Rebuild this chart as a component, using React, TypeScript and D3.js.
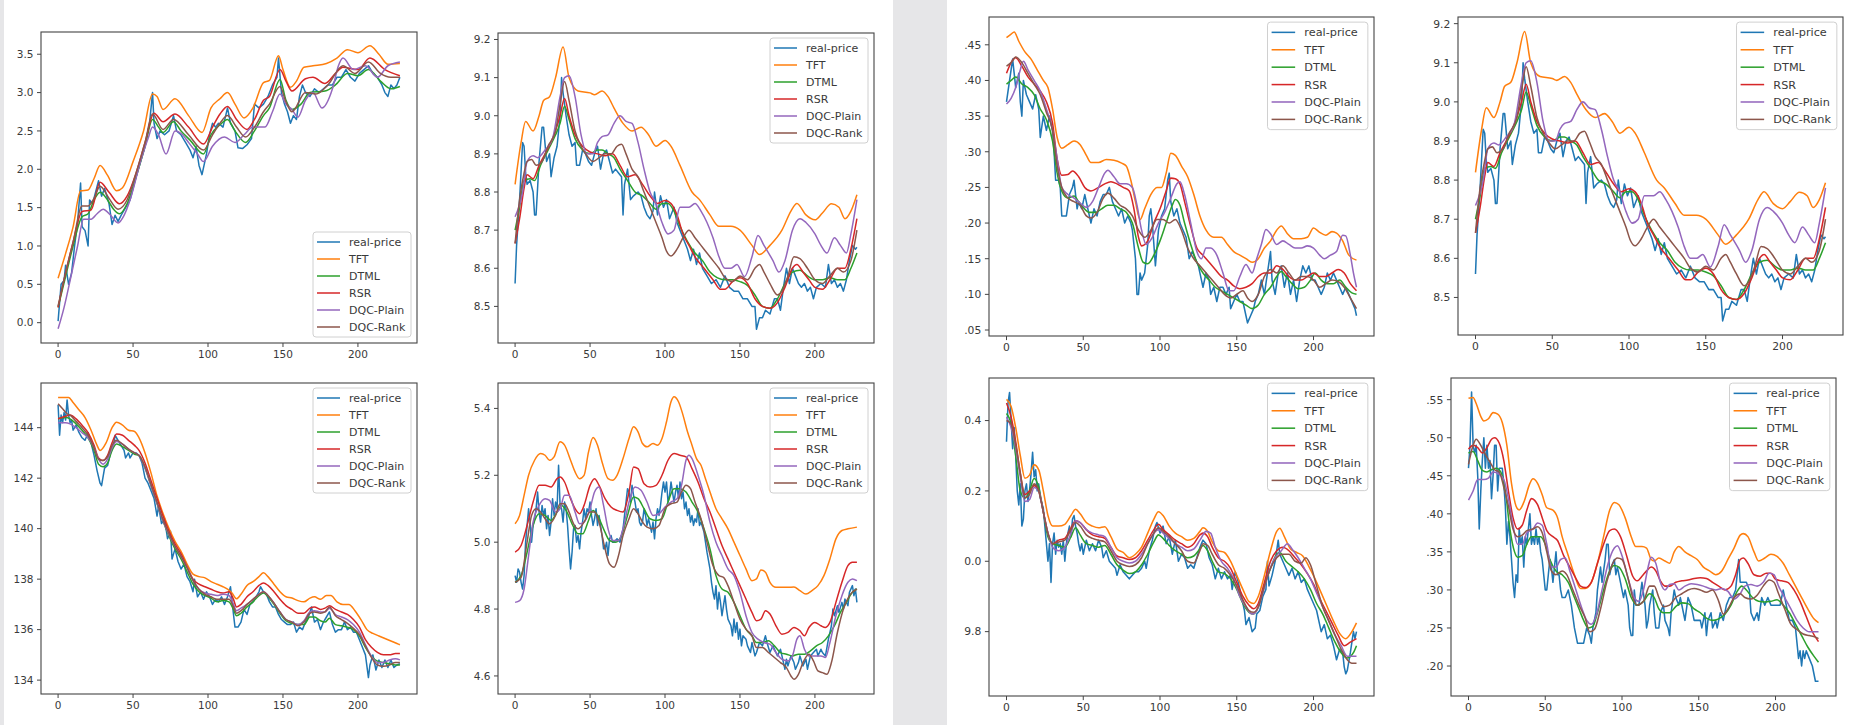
import React from 'react';
import * as d3 from 'd3';

const SERIES = ['real-price', 'TFT', 'DTML', 'RSR', 'DQC-Plain', 'DQC-Rank'];
const COLORS = ['#1f77b4', '#ff7f0e', '#2ca02c', '#d62728', '#9467bd', '#8c564b'];
const X_TICKS = [0, 50, 100, 150, 200];
const X_DOMAIN = [-11.4, 239.4];

// ---------- Panel 1 ----------
const P1_YDOMAIN = [-0.265, 3.79];
const P1_YTICKS = [3.5, 3.0, 2.5, 2.0, 1.5, 1.0, 0.5, 0.0];
const P1_YLABELS = ['3.5', '3.0', '2.5', '2.0', '1.5', '1.0', '0.5', '0.0'];
const P1_REAL = [0,.02, 2,.5, 4,.55, 5,.75, 7,.5, 9,.65, 11,1.0, 13,1.3, 15,1.82, 16,1.25, 18,1.2, 20,1.0, 21,1.6, 23,1.55, 25,1.7, 27,1.85, 29,1.65, 31,1.75, 34,1.55, 36,1.28, 38,1.4, 40,1.32, 42,1.4, 45,1.5, 48,1.6, 52,1.9, 55,2.1, 58,2.3, 61,2.6, 63,3.0, 64,2.6, 66,2.4, 68,2.5, 71,2.45, 74,2.5, 77,2.7, 79,2.5, 82,2.45, 85,2.35, 88,2.25, 90,2.15, 92,2.3, 94,2.05, 96,1.93, 99,2.2, 101,2.45, 103,2.6, 105,2.55, 107,2.6, 110,2.55, 113,2.8, 115,2.6, 118,2.5, 120,2.28, 123,2.27, 126,2.32, 129,2.4, 131,2.85, 134,2.8, 137,2.85, 140,2.95, 143,3.1, 146,3.2, 147,3.45, 149,3.0, 151,2.85, 153,2.75, 155,2.6, 157,2.7, 159,2.65, 161,2.95, 163,3.1, 165,3.0, 168,2.95, 171,3.05, 174,3.0, 177,3.05, 180,3.1, 183,3.1, 186,3.2, 189,3.2, 192,3.3, 195,3.2, 198,3.15, 201,3.25, 204,3.3, 207,3.35, 210,3.25, 213,3.2, 216,3.1, 218,3.0, 220,2.95, 222,3.1, 224,3.05, 226,3.1, 228,3.2];
const P1_TFT = [0,.58, 5,.9, 10,1.25, 15,1.72, 20,1.73, 24,1.88, 28,2.05, 33,1.92, 39,1.72, 43,1.76, 50,2.1, 57,2.5, 63,2.98, 66,2.95, 70,2.78, 78,2.92, 87,2.7, 96,2.48, 102,2.8, 108,2.92, 113,3.0, 118,2.85, 124,2.67, 130,2.8, 137,3.13, 141,3.16, 147,3.48, 150,3.3, 155,3.07, 159,3.15, 164,3.33, 170,3.35, 179,3.38, 186,3.45, 193,3.56, 200,3.52, 208,3.61, 214,3.5, 220,3.37, 228,3.38];
const P1_DTML = [0,.2, 5,.6, 10,1.0, 16,1.38, 20,1.42, 24,1.6, 28,1.7, 33,1.6, 37,1.48, 41,1.42, 46,1.55, 52,1.9, 58,2.3, 63,2.65, 67,2.55, 70,2.48, 77,2.62, 82,2.5, 88,2.38, 97,2.2, 102,2.45, 108,2.58, 113,2.65, 118,2.5, 125,2.35, 131,2.5, 137,2.7, 141,2.8, 148,3.17, 152,2.9, 156,2.78, 162,2.85, 168,3.0, 178,3.02, 185,3.1, 193,3.25, 200,3.22, 207,3.3, 215,3.15, 222,3.05, 228,3.08];
const P1_RSR = [0,.2, 5,.65, 10,1.05, 16,1.45, 22,1.47, 28,1.83, 34,1.7, 41,1.55, 46,1.65, 52,1.95, 58,2.35, 64,2.73, 70,2.62, 78,2.72, 87,2.55, 97,2.33, 103,2.55, 108,2.72, 113,2.82, 119,2.65, 126,2.52, 131,2.65, 137,2.9, 141,2.95, 148,3.3, 152,3.15, 156,3.02, 165,3.18, 170,3.2, 178,3.12, 185,3.25, 190,3.33, 200,3.3, 208,3.45, 218,3.3, 228,3.22];
const P1_PLAIN = [0,-.08, 4,.2, 8,.55, 13,1.0, 17,1.35, 22,1.35, 26,1.42, 30,1.48, 35,1.4, 40,1.3, 44,1.4, 48,1.6, 55,2.1, 60,2.4, 63,2.55, 67,2.45, 72,2.2, 78,2.5, 83,2.45, 87,2.35, 93,2.2, 97,2.1, 103,2.3, 111,2.42, 118,2.35, 124,2.45, 130,2.55, 138,2.55, 143,2.75, 148,2.98, 152,2.85, 156,2.78, 160,2.68, 165,2.9, 170,3.0, 176,2.8, 183,3.05, 187,3.35, 190,3.45, 197,3.3, 205,3.35, 213,3.2, 220,3.35, 228,3.4];
const P1_RANK = [0,.22, 5,.65, 10,1.05, 16,1.52, 20,1.52, 24,1.62, 28,1.78, 34,1.62, 40,1.48, 46,1.6, 52,1.95, 58,2.35, 63,2.72, 70,2.52, 77,2.65, 87,2.45, 97,2.25, 103,2.45, 108,2.6, 113,2.7, 119,2.55, 125,2.42, 131,2.55, 137,2.75, 141,2.85, 148,3.08, 152,2.88, 156,2.75, 165,3.0, 172,2.98, 180,3.1, 190,3.35, 198,3.25, 207,3.4, 215,3.25, 222,3.2, 228,3.2];

// ---------- Panel 2 (also panel 4) ----------
const P2_YDOMAIN = [8.404, 9.217];
const P2_YTICKS = [9.2, 9.1, 9.0, 8.9, 8.8, 8.7, 8.6, 8.5];
const P2_YLABELS = ['9.2', '9.1', '9.0', '8.9', '8.8', '8.7', '8.6', '8.5'];
const P2_REAL = [0,8.56, 1,8.66, 3,8.78, 5,8.93, 6,8.92, 7,8.85, 8,8.82, 10,8.83, 12,8.8, 13,8.74, 14,8.74, 16,8.88, 18,8.97, 19,8.97, 21,8.88, 23,8.9, 24,8.84, 26,8.89, 28,8.92, 30,9.0, 31,9.1, 32,9.06, 34,9.0, 36,8.95, 38,8.92, 40,8.93, 41,8.87, 43,8.87, 45,8.91, 47,8.9, 49,8.88, 51,8.87, 53,8.9, 55,8.92, 57,8.86, 59,8.9, 61,8.91, 63,8.88, 65,8.85, 67,8.86, 69,8.85, 71,8.84, 72,8.74, 73,8.82, 75,8.86, 77,8.78, 79,8.79, 82,8.8, 84,8.79, 86,8.76, 88,8.74, 90,8.73, 92,8.75, 93,8.8, 95,8.74, 97,8.79, 99,8.76, 101,8.78, 103,8.73, 106,8.76, 108,8.72, 110,8.7, 112,8.68, 115,8.65, 117,8.62, 119,8.65, 121,8.61, 123,8.64, 125,8.6, 128,8.58, 131,8.56, 134,8.57, 137,8.55, 140,8.58, 143,8.55, 146,8.54, 149,8.54, 152,8.52, 155,8.52, 158,8.5, 160,8.5, 161,8.44, 163,8.47, 165,8.47, 167,8.49, 170,8.48, 173,8.52, 175,8.52, 177,8.49, 179,8.55, 181,8.6, 183,8.56, 185,8.6, 187,8.58, 189,8.56, 191,8.55, 193,8.56, 195,8.54, 197,8.55, 199,8.52, 201,8.55, 204,8.56, 207,8.55, 209,8.61, 211,8.56, 213,8.57, 215,8.55, 217,8.56, 219,8.54, 221,8.57, 223,8.62, 225,8.66, 227,8.65, 228,8.655];
const P2_TFT = [0,8.82, 4,8.93, 7,8.985, 12,8.96, 16,9.0, 19,9.04, 23,9.05, 27,9.1, 32,9.18, 36,9.1, 42,9.065, 50,9.06, 53,9.055, 58,9.065, 62,9.05, 66,9.02, 72,8.98, 78,8.96, 84,8.97, 89,8.95, 94,8.92, 100,8.935, 104,8.92, 110,8.87, 118,8.8, 123,8.78, 130,8.74, 136,8.71, 144,8.71, 150,8.7, 158,8.66, 163,8.636, 170,8.66, 178,8.7, 184,8.75, 188,8.77, 194,8.74, 200,8.727, 205,8.745, 211,8.769, 216,8.76, 220,8.73, 224,8.75, 228,8.793];
const P2_DTML = [0,8.7, 3,8.76, 6,8.83, 10,8.835, 13,8.83, 17,8.87, 22,8.91, 27,8.95, 30,8.98, 33,9.025, 36,8.99, 40,8.94, 45,8.91, 50,8.9, 55,8.91, 58,8.91, 62,8.9, 66,8.89, 70,8.86, 75,8.83, 80,8.8, 85,8.79, 90,8.77, 94,8.755, 98,8.77, 102,8.77, 106,8.75, 110,8.71, 115,8.67, 120,8.64, 125,8.62, 130,8.59, 135,8.575, 140,8.57, 145,8.57, 150,8.565, 155,8.555, 160,8.53, 165,8.5, 170,8.495, 175,8.52, 180,8.56, 185,8.59, 190,8.595, 195,8.58, 200,8.57, 205,8.57, 210,8.575, 215,8.57, 220,8.57, 224,8.6, 228,8.64];
const P2_RSR = [0,8.665, 3,8.73, 6,8.81, 8,8.845, 12,8.835, 16,8.87, 20,8.9, 25,8.94, 30,9.0, 33,9.045, 36,9.0, 40,8.95, 45,8.92, 50,8.905, 55,8.9, 60,8.895, 65,8.9, 70,8.87, 75,8.84, 80,8.845, 85,8.82, 90,8.79, 95,8.77, 100,8.778, 104,8.77, 108,8.74, 112,8.69, 116,8.66, 120,8.63, 126,8.6, 132,8.57, 137,8.545, 140,8.545, 145,8.565, 150,8.575, 155,8.56, 160,8.52, 165,8.5, 170,8.495, 175,8.51, 180,8.55, 185,8.6, 188,8.61, 192,8.59, 196,8.57, 200,8.55, 205,8.545, 210,8.57, 215,8.6, 220,8.6, 224,8.65, 228,8.73];
const P2_PLAIN = [0,8.735, 5,8.8, 8,8.88, 12,8.895, 15,8.89, 20,8.91, 25,8.94, 30,9.05, 33,9.1, 36,9.105, 40,9.05, 44,8.95, 48,8.9, 52,8.9, 55,8.93, 58,8.945, 62,8.95, 66,8.98, 70,9.0, 74,8.985, 78,8.98, 82,8.93, 86,8.86, 90,8.8, 94,8.77, 98,8.72, 102,8.69, 106,8.7, 110,8.76, 116,8.76, 120,8.77, 124,8.75, 128,8.72, 132,8.68, 136,8.63, 140,8.6, 144,8.6, 148,8.61, 153,8.578, 158,8.63, 162,8.686, 166,8.66, 172,8.62, 176,8.59, 180,8.62, 185,8.7, 190,8.73, 194,8.72, 200,8.69, 204,8.66, 208,8.64, 213,8.68, 217,8.66, 221,8.64, 224,8.69, 228,8.78];
const P2_RANK = [0,8.665, 3,8.78, 6,8.85, 8,8.88, 11,8.885, 14,8.87, 18,8.88, 22,8.92, 27,8.96, 30,9.03, 33,9.09, 36,9.04, 40,8.96, 44,8.92, 48,8.895, 52,8.88, 56,8.89, 60,8.9, 64,8.9, 68,8.92, 71,8.925, 74,8.9, 78,8.86, 82,8.84, 86,8.8, 90,8.76, 94,8.72, 98,8.68, 101,8.645, 104,8.632, 108,8.65, 112,8.68, 116,8.7, 120,8.68, 124,8.66, 128,8.64, 132,8.62, 136,8.6, 140,8.575, 145,8.565, 150,8.58, 155,8.57, 160,8.6, 163,8.61, 166,8.59, 170,8.56, 175,8.53, 178,8.54, 182,8.58, 186,8.63, 190,8.625, 195,8.6, 200,8.57, 205,8.56, 210,8.58, 215,8.6, 219,8.59, 224,8.62, 228,8.7];

// ---------- Panel 3 ----------
const P3_YDOMAIN = [0.0416, 0.489];
const P3_YTICKS = [0.45, 0.40, 0.35, 0.30, 0.25, 0.20, 0.15, 0.10, 0.05];
const P3_YLABELS = ['.45', '.40', '.35', '.30', '.25', '.20', '.15', '.10', '.05'];
const P3_REAL = [0,.37, 2,.4, 4,.43, 5,.41, 6,.39, 8,.41, 9,.37, 10,.35, 11,.4, 13,.38, 15,.37, 17,.36, 19,.38, 20,.37, 21,.36, 22,.32, 24,.35, 25,.34, 26,.33, 28,.35, 30,.33, 31,.3, 32,.26, 34,.26, 35,.25, 36,.21, 38,.21, 39,.21, 41,.24, 43,.25, 44,.26, 46,.22, 47,.23, 49,.22, 51,.24, 53,.22, 55,.2, 57,.22, 59,.21, 61,.23, 63,.24, 65,.24, 67,.25, 69,.23, 71,.22, 73,.21, 75,.22, 77,.2, 79,.21, 81,.2, 82,.19, 84,.15, 85,.1, 86,.1, 87,.13, 88,.12, 90,.13, 92,.17, 93,.21, 94,.22, 95,.2, 97,.14, 99,.19, 101,.21, 103,.22, 105,.26, 106,.27, 107,.23, 109,.21, 111,.22, 113,.2, 115,.19, 117,.18, 119,.15, 121,.16, 123,.15, 125,.14, 127,.12, 128,.11, 130,.13, 132,.12, 133,.1, 135,.11, 137,.09, 139,.11, 141,.11, 143,.1, 145,.11, 146,.08, 148,.09, 150,.1, 152,.09, 154,.09, 156,.07, 157,.06, 159,.07, 161,.08, 162,.09, 164,.1, 166,.12, 168,.1, 170,.13, 172,.16, 173,.12, 175,.1, 177,.13, 179,.14, 181,.11, 183,.13, 185,.1, 187,.12, 189,.09, 191,.12, 193,.14, 195,.13, 197,.14, 199,.12, 201,.12, 203,.11, 205,.1, 207,.11, 209,.13, 211,.12, 213,.13, 215,.12, 217,.11, 219,.1, 221,.11, 223,.1, 225,.09, 227,.08, 228,.07];
const P3_TFT = [0,.46, 3,.465, 5,.468, 8,.455, 12,.44, 16,.43, 20,.415, 24,.4, 27,.39, 30,.36, 33,.32, 36,.305, 40,.31, 44,.315, 48,.31, 52,.295, 55,.285, 60,.285, 65,.289, 70,.288, 75,.284, 78,.28, 81,.26, 84,.23, 87,.205, 90,.22, 94,.24, 98,.25, 101,.25, 104,.27, 107,.298, 110,.295, 114,.28, 118,.265, 122,.24, 126,.21, 130,.19, 135,.18, 140,.18, 144,.17, 148,.16, 152,.155, 156,.15, 160,.145, 164,.15, 168,.165, 172,.175, 176,.19, 179,.196, 183,.185, 187,.178, 192,.178, 196,.18, 200,.193, 204,.187, 208,.183, 212,.188, 215,.186, 219,.175, 223,.155, 228,.148];
const P3_DTML = [0,.395, 3,.4, 6,.405, 10,.395, 14,.39, 18,.38, 22,.36, 26,.345, 30,.315, 33,.27, 36,.245, 40,.235, 44,.238, 47,.23, 50,.222, 54,.215, 58,.215, 62,.22, 66,.225, 70,.225, 74,.22, 78,.215, 82,.2, 86,.165, 89,.145, 92,.143, 96,.155, 100,.175, 104,.2, 108,.225, 110,.233, 113,.225, 116,.2, 120,.17, 124,.145, 128,.13, 132,.12, 136,.11, 140,.105, 144,.1, 148,.095, 152,.09, 156,.085, 160,.08, 164,.085, 168,.1, 172,.11, 176,.125, 179,.132, 182,.125, 186,.115, 190,.108, 194,.11, 198,.12, 201,.13, 205,.12, 209,.115, 213,.115, 217,.12, 221,.11, 225,.102, 228,.1];
const P3_RSR = [0,.41, 3,.425, 6,.432, 10,.42, 14,.405, 18,.395, 22,.385, 26,.37, 30,.34, 33,.29, 36,.267, 40,.268, 43,.273, 47,.265, 51,.25, 55,.245, 60,.25, 64,.255, 68,.258, 72,.255, 76,.25, 80,.245, 83,.22, 86,.18, 88,.168, 92,.175, 96,.2, 100,.22, 104,.245, 107,.263, 110,.262, 113,.255, 116,.23, 120,.195, 124,.165, 128,.155, 132,.145, 136,.135, 140,.125, 144,.12, 148,.112, 152,.108, 156,.11, 160,.115, 164,.125, 168,.13, 172,.13, 176,.14, 180,.135, 184,.125, 188,.12, 192,.12, 196,.125, 200,.13, 204,.125, 208,.125, 212,.13, 216,.135, 220,.13, 224,.115, 228,.105];
const P3_PLAIN = [0,.367, 3,.375, 6,.39, 9,.415, 11,.427, 14,.415, 18,.4, 22,.385, 26,.36, 30,.33, 33,.29, 36,.25, 40,.24, 44,.235, 48,.228, 52,.222, 56,.23, 60,.25, 64,.27, 66,.274, 70,.265, 74,.255, 78,.255, 82,.25, 85,.225, 88,.19, 91,.17, 95,.18, 99,.2, 103,.215, 107,.235, 111,.255, 113,.258, 116,.24, 120,.2, 124,.16, 127,.15, 130,.165, 133,.165, 137,.155, 141,.13, 145,.105, 148,.105, 152,.125, 156,.142, 160,.13, 163,.15, 166,.17, 169,.191, 172,.185, 176,.17, 180,.175, 184,.17, 188,.165, 192,.165, 196,.168, 200,.165, 204,.155, 207,.15, 211,.155, 215,.16, 219,.183, 221,.182, 224,.155, 226,.13, 228,.11];
const P3_RANK = [0,.42, 3,.425, 6,.433, 10,.425, 14,.41, 18,.395, 22,.38, 26,.355, 30,.33, 33,.28, 36,.25, 40,.235, 44,.23, 48,.225, 52,.21, 55,.207, 59,.215, 63,.235, 66,.242, 70,.235, 74,.225, 78,.22, 82,.21, 86,.19, 90,.18, 94,.19, 98,.205, 102,.205, 106,.2, 110,.205, 114,.19, 118,.165, 122,.15, 126,.14, 130,.13, 134,.12, 138,.11, 142,.1, 146,.095, 150,.1, 154,.105, 157,.095, 160,.09, 164,.1, 168,.125, 172,.135, 176,.13, 180,.14, 184,.13, 188,.12, 192,.125, 196,.125, 200,.12, 204,.11, 208,.115, 212,.12, 216,.118, 220,.11, 224,.095, 228,.08];

// ---------- Panel 5 ----------
const P5_YDOMAIN = [133.45, 145.77];
const P5_YTICKS = [144, 142, 140, 138, 136, 134];
const P5_YLABELS = ['144', '142', '140', '138', '136', '134'];
const P5_REAL = [0,144.9, 1,143.7, 2,144.5, 3,144.2, 4,144.6, 5,144.3, 6,145.1, 7,144.5, 8,144.2, 9,144.3, 10,143.9, 12,144.1, 14,143.8, 16,143.6, 18,143.5, 20,143.8, 22,143.4, 24,142.9, 26,142.3, 28,141.8, 29,141.7, 31,142.4, 33,142.5, 35,143.0, 37,143.3, 38,143.7, 40,143.5, 42,143.3, 44,143.1, 45,142.8, 47,143.0, 48,142.8, 50,143.0, 52,143.0, 54,142.9, 56,142.6, 58,142.0, 60,141.8, 62,141.5, 64,141.2, 66,140.5, 67,140.9, 69,140.2, 71,140.4, 73,139.6, 75,139.9, 76,138.8, 78,139.2, 80,138.7, 82,138.4, 84,138.6, 86,138.1, 88,137.9, 90,137.5, 91,138.0, 93,137.3, 95,137.5, 97,137.2, 99,137.5, 101,137.3, 103,137.0, 105,137.2, 107,137.1, 109,137.3, 111,137.0, 113,137.3, 115,137.7, 117,136.6, 118,136.1, 120,136.1, 122,136.3, 124,136.8, 126,136.6, 128,137.0, 130,137.1, 132,137.3, 134,137.5, 135,137.7, 137,137.5, 139,137.4, 141,137.1, 143,136.9, 145,136.9, 147,136.6, 149,136.4, 151,136.3, 153,136.2, 155,136.2, 157,136.3, 159,135.9, 161,136.1, 163,136.0, 165,136.3, 167,136.5, 169,136.9, 171,136.3, 173,136.4, 175,136.0, 177,136.3, 179,136.5, 181,136.7, 183,136.2, 185,135.9, 187,136.0, 189,136.0, 191,136.3, 193,136.0, 195,136.1, 197,135.9, 199,135.9, 201,135.6, 203,135.3, 205,135.0, 207,134.1, 208,134.6, 210,135.0, 212,134.4, 214,134.8, 216,134.5, 218,134.8, 220,134.5, 222,134.8, 224,134.5, 226,134.6, 228,134.65];
const P5_TFT = [0,145.2, 7,145.2, 10,145.0, 14,144.7, 18,144.4, 22,143.9, 26,143.3, 28,143.1, 32,143.4, 36,144.0, 39,144.22, 43,144.1, 47,143.9, 51,143.85, 54,143.6, 58,143.0, 62,142.2, 66,141.3, 70,140.6, 74,140.0, 78,139.5, 82,139.1, 86,138.6, 90,138.2, 94,138.1, 98,138.05, 102,137.9, 106,137.8, 110,137.7, 113,137.6, 116,137.45, 119,137.22, 122,137.4, 126,137.75, 130,137.9, 134,138.1, 137,138.25, 140,138.1, 144,137.8, 148,137.5, 152,137.3, 156,137.25, 160,137.15, 164,137.1, 168,137.25, 171,137.3, 175,137.2, 179,137.35, 182,137.35, 186,137.1, 190,137.0, 194,137.0, 198,136.75, 202,136.4, 206,136.0, 210,135.85, 214,135.75, 218,135.65, 222,135.55, 226,135.45, 228,135.4];
const P5_DTML = [0,144.35, 5,144.4, 8,144.35, 12,144.15, 16,143.9, 20,143.6, 24,143.1, 27,142.55, 30,142.45, 33,142.6, 36,143.1, 39,143.35, 43,143.25, 47,143.1, 51,142.95, 54,142.9, 58,142.4, 62,141.7, 66,141.0, 70,140.3, 74,139.7, 78,139.2, 82,138.8, 86,138.3, 90,137.8, 94,137.5, 98,137.35, 102,137.25, 106,137.1, 110,137.15, 114,137.1, 117,136.8, 119,136.55, 122,136.65, 126,136.9, 130,137.1, 134,137.35, 137,137.45, 140,137.3, 144,137.0, 148,136.65, 152,136.35, 156,136.25, 160,136.2, 164,136.2, 168,136.5, 171,136.5, 175,136.35, 178,136.3, 181,136.45, 185,136.2, 189,136.15, 193,136.1, 197,136.0, 201,135.75, 205,135.3, 209,134.95, 213,134.75, 217,134.7, 221,134.65, 225,134.6, 228,134.6];
const P5_RSR = [0,144.35, 5,144.45, 8,144.5, 12,144.35, 16,144.1, 20,143.8, 24,143.3, 27,142.8, 30,142.7, 33,142.9, 36,143.4, 39,143.75, 43,143.7, 47,143.5, 51,143.3, 54,143.1, 58,142.6, 62,141.9, 66,141.2, 70,140.5, 74,139.9, 78,139.4, 82,139.0, 86,138.5, 90,138.0, 94,137.8, 98,137.7, 102,137.6, 106,137.5, 110,137.45, 114,137.5, 117,137.2, 119,136.9, 122,137.0, 126,137.3, 130,137.5, 134,137.75, 137,137.85, 140,137.75, 144,137.5, 148,137.2, 152,136.95, 156,136.8, 160,136.65, 164,136.65, 168,136.85, 171,136.9, 175,136.8, 178,136.85, 181,136.95, 185,136.8, 189,136.7, 193,136.6, 197,136.4, 201,136.1, 205,135.6, 209,135.3, 213,135.1, 217,135.0, 221,135.0, 225,135.05, 228,135.05];
const P5_PLAIN = [0,144.2, 5,144.2, 8,144.15, 12,144.0, 16,143.8, 20,143.6, 24,143.2, 27,142.75, 30,142.55, 33,142.75, 36,143.2, 39,143.45, 43,143.35, 47,143.15, 51,143.0, 54,142.9, 58,142.4, 62,141.7, 66,141.0, 70,140.3, 74,139.75, 78,139.3, 82,138.9, 86,138.45, 90,137.95, 94,137.6, 98,137.45, 102,137.4, 106,137.35, 110,137.4, 114,137.35, 117,137.0, 119,136.75, 122,136.85, 126,137.0, 130,137.2, 134,137.4, 137,137.5, 140,137.35, 144,137.05, 148,136.7, 152,136.4, 156,136.3, 160,136.2, 164,136.35, 168,136.7, 171,136.75, 175,136.7, 178,136.7, 181,136.85, 185,136.6, 189,136.5, 193,136.4, 197,136.2, 201,135.9, 205,135.4, 209,134.95, 213,134.7, 217,134.7, 221,134.8, 225,134.85, 228,134.8];
const P5_RANK = [0,144.95, 3,144.75, 6,144.55, 9,144.45, 12,144.25, 16,144.0, 20,143.7, 24,143.2, 27,142.75, 30,142.7, 33,142.85, 36,143.3, 39,143.5, 43,143.35, 47,143.15, 51,143.0, 54,142.9, 58,142.45, 62,141.75, 66,141.05, 70,140.35, 74,139.8, 78,139.3, 82,138.9, 86,138.45, 90,137.95, 94,137.6, 98,137.4, 102,137.3, 106,137.2, 110,137.2, 114,137.2, 117,136.9, 119,136.65, 122,136.75, 126,137.0, 130,137.2, 134,137.4, 137,137.5, 140,137.35, 144,137.05, 148,136.7, 152,136.4, 156,136.3, 160,136.15, 164,136.3, 168,136.65, 171,136.7, 175,136.65, 178,136.7, 181,136.9, 185,136.55, 189,136.4, 193,136.25, 197,136.05, 201,135.8, 205,135.35, 209,134.9, 213,134.6, 217,134.55, 221,134.6, 225,134.7, 228,134.7];

// ---------- Panel 6 ----------
const P6_YDOMAIN = [4.546, 5.476];
const P6_YTICKS = [5.4, 5.2, 5.0, 4.8, 4.6];
const P6_YLABELS = ['5.4', '5.2', '5.0', '4.8', '4.6'];
const P6_REAL = [0,4.9, 1,4.88, 2,4.92, 3,4.91, 4,4.88, 5,4.86, 6,4.9, 7,5.0, 8,5.05, 9,5.1, 10,5.06, 11,5.0, 12,5.05, 13,5.07, 14,5.1, 15,5.15, 16,5.09, 17,5.06, 18,5.11, 19,5.08, 20,5.1, 21,5.04, 22,5.08, 23,5.02, 24,5.06, 25,5.13, 26,5.08, 27,5.12, 28,5.1, 29,5.23, 30,5.11, 31,5.1, 32,5.06, 33,5.12, 34,5.1, 35,5.05, 36,4.98, 37,4.92, 38,4.97, 39,5.04, 40,5.05, 41,5.0, 42,5.02, 43,4.98, 44,5.03, 45,5.06, 46,5.1, 47,5.07, 48,5.1, 49,5.09, 50,5.12, 51,5.08, 52,5.05, 53,5.07, 54,5.1, 55,5.05, 56,5.08, 57,5.05, 58,5.02, 59,4.98, 60,4.98, 61,5.0, 62,4.96, 63,5.01, 64,5.02, 65,5.0, 66,5.0, 68,5.01, 70,5.0, 72,5.04, 73,5.08, 74,5.12, 75,5.16, 76,5.15, 77,5.12, 78,5.17, 79,5.14, 80,5.12, 81,5.09, 82,5.1, 83,5.06, 84,5.05, 85,5.06, 86,5.1, 87,5.08, 88,5.05, 89,5.07, 90,5.05, 91,5.03, 92,5.06, 93,5.01, 94,5.07, 95,5.1, 96,5.08, 97,5.11, 98,5.15, 99,5.18, 100,5.15, 101,5.18, 102,5.12, 103,5.14, 104,5.18, 105,5.15, 106,5.12, 107,5.15, 108,5.17, 109,5.13, 110,5.18, 111,5.13, 112,5.15, 113,5.1, 114,5.12, 115,5.08, 116,5.1, 117,5.06, 118,5.08, 119,5.05, 120,5.07, 121,5.06, 122,5.1, 123,5.05, 124,5.06, 126,5.03, 128,4.97, 130,4.92, 131,4.88, 132,4.85, 133,4.83, 134,4.87, 135,4.8, 136,4.85, 137,4.82, 138,4.78, 140,4.84, 141,4.8, 142,4.77, 144,4.75, 145,4.72, 146,4.77, 147,4.73, 148,4.76, 149,4.71, 150,4.74, 151,4.69, 152,4.72, 154,4.71, 155,4.69, 157,4.67, 158,4.7, 160,4.66, 161,4.67, 163,4.7, 165,4.69, 167,4.72, 168,4.7, 170,4.67, 172,4.69, 174,4.67, 175,4.66, 177,4.68, 179,4.64, 180,4.62, 181,4.65, 182,4.63, 184,4.66, 186,4.64, 187,4.62, 189,4.64, 190,4.66, 192,4.63, 194,4.65, 195,4.62, 197,4.66, 199,4.67, 201,4.68, 202,4.66, 204,4.68, 205,4.67, 207,4.66, 209,4.71, 211,4.75, 212,4.8, 213,4.78, 215,4.81, 216,4.79, 218,4.82, 219,4.8, 220,4.83, 222,4.81, 223,4.85, 225,4.87, 226,4.84, 227,4.86, 228,4.82];
const P6_TFT = [0,5.055, 3,5.08, 6,5.14, 9,5.2, 13,5.245, 17,5.265, 20,5.26, 23,5.245, 26,5.255, 30,5.3, 33,5.29, 37,5.245, 40,5.21, 43,5.19, 46,5.2, 49,5.27, 52,5.313, 55,5.29, 58,5.24, 62,5.19, 65,5.185, 68,5.2, 72,5.25, 76,5.31, 79,5.345, 82,5.33, 85,5.295, 88,5.285, 92,5.295, 95,5.29, 98,5.31, 101,5.36, 104,5.42, 106,5.435, 109,5.42, 112,5.38, 115,5.33, 118,5.29, 121,5.25, 124,5.23, 127,5.19, 130,5.15, 134,5.1, 138,5.07, 142,5.04, 146,5.0, 150,4.96, 154,4.92, 158,4.885, 161,4.89, 164,4.917, 167,4.91, 170,4.88, 174,4.865, 178,4.865, 182,4.865, 186,4.866, 190,4.855, 194,4.845, 198,4.855, 202,4.87, 206,4.9, 210,4.95, 214,5.01, 218,5.035, 222,5.04, 228,5.045];
const P6_DTML = [0,4.88, 4,4.9, 8,4.97, 12,5.05, 16,5.085, 20,5.08, 24,5.065, 28,5.09, 31,5.11, 34,5.095, 38,5.055, 42,5.025, 45,5.025, 49,5.065, 52,5.095, 55,5.08, 59,5.04, 63,5.005, 67,5.0, 71,5.02, 75,5.08, 79,5.135, 82,5.13, 86,5.1, 90,5.07, 94,5.065, 98,5.07, 102,5.12, 106,5.16, 110,5.16, 114,5.15, 118,5.12, 122,5.09, 126,5.04, 130,4.98, 134,4.9, 138,4.86, 142,4.85, 146,4.82, 150,4.78, 154,4.74, 158,4.72, 161,4.7, 165,4.7, 169,4.705, 173,4.69, 177,4.67, 181,4.665, 185,4.66, 189,4.665, 193,4.665, 197,4.675, 201,4.69, 205,4.7, 209,4.72, 213,4.75, 217,4.79, 221,4.82, 225,4.85, 228,4.86];
const P6_RSR = [0,4.97, 4,4.99, 8,5.05, 12,5.12, 16,5.17, 20,5.17, 24,5.165, 28,5.19, 30,5.195, 33,5.18, 37,5.13, 40,5.1, 43,5.085, 46,5.11, 50,5.17, 53,5.19, 56,5.17, 60,5.13, 64,5.105, 68,5.095, 72,5.09, 76,5.15, 79,5.225, 82,5.22, 86,5.175, 90,5.165, 94,5.17, 98,5.2, 102,5.245, 106,5.265, 110,5.26, 114,5.255, 118,5.22, 122,5.18, 126,5.13, 130,5.09, 134,5.04, 138,4.99, 142,4.95, 146,4.91, 150,4.87, 154,4.83, 158,4.79, 161,4.765, 164,4.77, 167,4.795, 170,4.785, 174,4.75, 178,4.725, 182,4.73, 186,4.745, 190,4.735, 193,4.72, 196,4.745, 200,4.76, 204,4.75, 207,4.745, 210,4.76, 214,4.82, 218,4.88, 222,4.93, 225,4.94, 228,4.94];
const P6_PLAIN = [0,4.82, 3,4.825, 6,4.86, 9,4.96, 12,5.06, 16,5.11, 20,5.13, 23,5.125, 27,5.09, 30,5.1, 33,5.14, 36,5.14, 40,5.09, 43,5.055, 46,5.06, 50,5.1, 53,5.15, 56,5.165, 59,5.11, 62,5.04, 65,5.005, 69,5.005, 72,5.04, 76,5.12, 80,5.165, 84,5.155, 88,5.12, 92,5.08, 96,5.085, 100,5.105, 104,5.12, 108,5.13, 111,5.17, 114,5.245, 116,5.26, 118,5.25, 122,5.2, 126,5.14, 130,5.06, 134,5.0, 138,4.96, 142,4.92, 146,4.9, 150,4.85, 154,4.78, 158,4.73, 162,4.71, 166,4.7, 170,4.695, 174,4.67, 178,4.65, 182,4.645, 185,4.66, 188,4.71, 190,4.72, 193,4.68, 196,4.66, 200,4.66, 204,4.66, 207,4.655, 210,4.7, 214,4.78, 218,4.84, 222,4.88, 225,4.89, 228,4.885];
const P6_RANK = [0,4.88, 4,4.895, 8,5.0, 11,5.08, 14,5.1, 17,5.09, 20,5.07, 23,5.055, 27,5.08, 30,5.115, 33,5.115, 36,5.09, 39,5.055, 42,5.04, 46,5.06, 50,5.09, 53,5.09, 56,5.06, 60,4.98, 63,4.935, 66,4.925, 69,4.96, 72,5.02, 76,5.07, 79,5.1, 82,5.085, 85,5.06, 88,5.045, 92,5.04, 96,5.05, 100,5.1, 104,5.115, 108,5.12, 111,5.15, 114,5.17, 117,5.16, 120,5.12, 124,5.07, 128,5.0, 132,4.93, 136,4.9, 139,4.895, 142,4.87, 146,4.82, 150,4.77, 154,4.74, 158,4.72, 161,4.685, 165,4.685, 169,4.67, 173,4.655, 177,4.64, 181,4.625, 184,4.6, 186,4.59, 189,4.605, 192,4.64, 196,4.665, 199,4.645, 202,4.615, 205,4.61, 208,4.605, 211,4.64, 215,4.73, 219,4.8, 223,4.84, 228,4.86];

// ---------- Panel 7 ----------
const P7_YDOMAIN = [9.617, 10.521];
const P7_YTICKS = [10.4, 10.2, 10.0, 9.8];
const P7_YLABELS = ['0.4', '0.2', '0.0', '9.8'];
const P7_REAL = [0,10.34, 1,10.45, 2,10.48, 3,10.4, 4,10.32, 5,10.38, 6,10.3, 7,10.2, 8,10.16, 9,10.22, 10,10.1, 11,10.12, 12,10.2, 13,10.22, 14,10.17, 15,10.2, 16,10.25, 17,10.31, 18,10.24, 19,10.26, 20,10.2, 21,10.22, 22,10.18, 24,10.15, 25,10.1, 26,10.05, 27,10.0, 28,10.05, 29,9.94, 30,10.05, 31,10.08, 32,10.02, 33,10.06, 34,10.04, 35,10.05, 36,10.02, 37,10.06, 38,10.0, 39,10.05, 40,10.08, 41,10.1, 42,10.07, 43,10.12, 44,10.13, 45,10.1, 46,10.08, 47,10.05, 48,10.03, 49,10.05, 50,10.02, 51,10.04, 52,10.06, 54,10.03, 56,10.05, 58,10.03, 60,10.06, 62,10.04, 63,10.01, 65,10.03, 67,10.0, 69,9.99, 71,9.98, 72,9.96, 74,9.99, 76,9.97, 78,9.96, 80,9.95, 82,9.96, 84,9.97, 86,9.97, 88,9.98, 90,10.0, 91,9.98, 93,10.03, 95,10.06, 97,10.1, 98,10.11, 100,10.08, 102,10.1, 104,10.05, 106,10.07, 108,10.02, 110,10.06, 112,10.0, 114,10.02, 116,10.01, 118,9.98, 120,9.99, 122,9.98, 124,10.01, 126,10.04, 128,10.06, 130,10.05, 132,10.01, 134,9.99, 136,9.95, 138,9.98, 140,9.95, 142,9.97, 144,9.95, 146,9.96, 147,9.92, 149,9.97, 151,9.94, 153,9.9, 155,9.86, 156,9.82, 158,9.84, 160,9.8, 162,9.81, 163,9.85, 165,9.86, 167,9.9, 169,9.92, 170,10.0, 171,9.93, 173,9.96, 175,10.0, 177,10.06, 178,10.02, 180,10.0, 182,9.98, 184,9.96, 186,9.98, 188,9.95, 190,9.97, 192,9.94, 194,9.95, 196,9.92, 198,9.9, 200,9.88, 202,9.86, 204,9.82, 205,9.8, 207,9.82, 209,9.78, 211,9.79, 213,9.76, 215,9.72, 217,9.75, 219,9.74, 220,9.7, 221,9.68, 222,9.69, 224,9.74, 226,9.8, 227,9.78, 228,9.8];
const P7_TFT = [0,10.46, 3,10.44, 6,10.38, 9,10.3, 12,10.236, 15,10.245, 18,10.274, 21,10.26, 24,10.2, 27,10.13, 30,10.1, 34,10.1, 38,10.105, 42,10.13, 45,10.148, 48,10.135, 52,10.11, 56,10.1, 60,10.095, 64,10.098, 68,10.07, 72,10.035, 76,10.025, 80,10.01, 84,10.02, 88,10.04, 92,10.08, 96,10.12, 99,10.141, 102,10.13, 106,10.1, 110,10.08, 114,10.07, 118,10.06, 122,10.065, 126,10.085, 128,10.095, 131,10.085, 134,10.055, 138,10.03, 142,10.025, 146,10.0, 150,9.96, 154,9.92, 158,9.885, 161,9.88, 164,9.9, 168,9.96, 172,10.03, 176,10.085, 178,10.094, 181,10.07, 185,10.035, 189,10.025, 193,10.015, 197,9.985, 201,9.95, 205,9.91, 209,9.87, 213,9.83, 217,9.795, 221,9.78, 225,9.8, 228,9.825];
const P7_DTML = [0,10.42, 3,10.39, 6,10.3, 9,10.2, 12,10.18, 15,10.2, 18,10.235, 21,10.21, 24,10.14, 27,10.07, 30,10.05, 34,10.045, 38,10.04, 42,10.07, 45,10.095, 48,10.075, 52,10.05, 56,10.045, 60,10.04, 64,10.045, 68,10.02, 72,9.99, 76,9.975, 80,9.965, 84,9.97, 88,9.99, 92,10.02, 96,10.055, 99,10.075, 102,10.065, 106,10.045, 110,10.03, 114,10.02, 118,10.01, 122,10.015, 126,10.035, 128,10.045, 131,10.03, 134,10.0, 138,9.97, 142,9.965, 146,9.95, 150,9.92, 154,9.88, 158,9.855, 161,9.85, 164,9.87, 168,9.93, 172,9.98, 176,10.02, 178,10.025, 182,10.0, 186,9.985, 190,9.97, 194,9.95, 198,9.92, 202,9.88, 206,9.85, 210,9.81, 214,9.77, 218,9.74, 222,9.725, 226,9.74, 228,9.76];
const P7_RSR = [0,10.45, 3,10.41, 6,10.34, 9,10.25, 12,10.19, 15,10.2, 18,10.215, 21,10.2, 24,10.14, 27,10.08, 30,10.05, 34,10.06, 38,10.065, 42,10.095, 45,10.115, 48,10.11, 52,10.09, 56,10.075, 60,10.07, 64,10.065, 68,10.04, 72,10.015, 76,10.01, 80,10.005, 84,10.01, 88,10.03, 92,10.06, 96,10.09, 99,10.105, 102,10.09, 106,10.075, 110,10.06, 114,10.05, 118,10.04, 122,10.05, 126,10.075, 128,10.08, 131,10.07, 134,10.04, 138,10.01, 142,10.0, 146,9.98, 150,9.94, 154,9.9, 158,9.875, 161,9.865, 164,9.88, 168,9.94, 172,10.0, 176,10.03, 180,10.04, 184,10.03, 188,10.01, 192,9.99, 196,9.965, 200,9.935, 204,9.895, 208,9.86, 212,9.825, 216,9.79, 220,9.76, 224,9.77, 228,9.78];
const P7_PLAIN = [0,10.41, 3,10.38, 6,10.32, 9,10.24, 12,10.17, 15,10.175, 18,10.21, 21,10.2, 24,10.14, 27,10.08, 30,10.04, 34,10.03, 38,10.04, 42,10.08, 45,10.115, 48,10.11, 52,10.09, 56,10.08, 60,10.075, 64,10.07, 68,10.04, 72,10.01, 76,10.0, 80,9.995, 84,10.0, 88,10.02, 92,10.05, 96,10.08, 99,10.09, 102,10.08, 106,10.065, 110,10.05, 114,10.04, 118,10.03, 122,10.035, 126,10.06, 130,10.085, 133,10.08, 136,10.04, 140,10.0, 144,9.98, 148,9.95, 152,9.9, 156,9.87, 160,9.85, 163,9.86, 167,9.91, 171,9.97, 175,10.01, 179,10.03, 183,10.05, 186,10.035, 190,10.01, 194,9.98, 198,9.95, 202,9.91, 206,9.87, 210,9.83, 214,9.79, 218,9.76, 222,9.73, 226,9.73, 228,9.73];
const P7_RANK = [0,10.4, 3,10.39, 6,10.33, 9,10.25, 12,10.18, 15,10.19, 18,10.22, 21,10.2, 24,10.14, 27,10.08, 30,10.05, 34,10.055, 38,10.06, 42,10.09, 45,10.11, 48,10.1, 52,10.075, 56,10.065, 60,10.06, 64,10.055, 68,10.03, 72,10.0, 76,9.99, 80,9.985, 84,9.99, 88,10.01, 92,10.05, 96,10.08, 99,10.095, 102,10.085, 106,10.07, 110,10.05, 114,10.03, 118,10.0, 122,9.995, 126,10.03, 128,10.05, 131,10.045, 134,10.02, 138,9.99, 142,9.98, 146,9.96, 150,9.93, 154,9.89, 158,9.86, 161,9.855, 164,9.87, 168,9.93, 172,9.98, 176,10.01, 180,10.02, 184,10.02, 188,10.0, 192,9.995, 195,10.01, 198,9.99, 202,9.93, 206,9.87, 210,9.83, 214,9.79, 218,9.75, 222,9.72, 225,9.71, 228,9.71];

// ---------- Panel 8 ----------
const P8_YDOMAIN = [0.1606, 0.5785];
const P8_YTICKS = [0.55, 0.50, 0.45, 0.40, 0.35, 0.30, 0.25, 0.20];
const P8_YLABELS = ['.55', '.50', '.45', '.40', '.35', '.30', '.25', '.20'];
const P8_REAL = [0,.46, 1,.49, 2,.56, 3,.49, 4,.48, 5,.49, 6,.45, 7,.38, 8,.43, 9,.47, 10,.5, 11,.46, 12,.49, 13,.46, 14,.47, 15,.42, 16,.45, 17,.49, 18,.49, 19,.43, 20,.46, 22,.46, 23,.44, 24,.41, 25,.36, 26,.39, 27,.37, 28,.34, 29,.31, 30,.29, 31,.32, 32,.31, 33,.38, 34,.36, 35,.37, 36,.33, 37,.37, 38,.36, 39,.38, 40,.4, 41,.36, 42,.37, 43,.36, 44,.38, 45,.36, 46,.37, 47,.35, 48,.34, 49,.32, 50,.3, 51,.3, 52,.32, 53,.34, 54,.33, 55,.31, 56,.33, 57,.35, 58,.32, 59,.32, 60,.3, 61,.29, 63,.29, 65,.3, 67,.28, 69,.25, 71,.23, 73,.23, 75,.23, 77,.25, 79,.24, 80,.23, 81,.25, 83,.27, 84,.3, 86,.33, 87,.31, 89,.34, 90,.36, 91,.36, 92,.32, 93,.33, 95,.34, 96,.32, 97,.33, 99,.31, 101,.29, 102,.3, 104,.28, 105,.25, 106,.24, 107,.24, 108,.3, 109,.28, 111,.28, 113,.31, 115,.28, 116,.25, 117,.26, 118,.28, 120,.3, 121,.27, 122,.25, 124,.25, 125,.27, 127,.28, 128,.26, 130,.25, 131,.24, 132,.27, 134,.3, 135,.29, 137,.28, 138,.29, 140,.27, 141,.26, 143,.29, 145,.28, 147,.26, 149,.26, 151,.26, 152,.25, 154,.27, 155,.24, 156,.26, 158,.27, 159,.25, 161,.26, 162,.25, 164,.27, 166,.26, 168,.28, 170,.29, 172,.29, 174,.3, 176,.34, 177,.31, 179,.31, 181,.31, 183,.3, 184,.27, 186,.26, 188,.27, 189,.26, 191,.29, 193,.28, 195,.29, 197,.28, 199,.28, 201,.28, 203,.28, 205,.3, 207,.28, 209,.26, 211,.26, 213,.25, 214,.23, 215,.21, 216,.22, 217,.2, 218,.22, 219,.21, 220,.22, 222,.21, 224,.2, 226,.18, 228,.18];
const P8_TFT = [0,.552, 3,.553, 5,.545, 8,.528, 10,.522, 13,.525, 16,.533, 19,.531, 22,.52, 25,.49, 28,.44, 31,.41, 33,.405, 36,.415, 40,.44, 42,.446, 45,.44, 48,.425, 51,.408, 55,.405, 58,.395, 61,.37, 65,.345, 69,.32, 73,.302, 76,.302, 80,.31, 84,.335, 88,.37, 92,.405, 95,.415, 98,.412, 102,.395, 106,.37, 109,.357, 113,.357, 116,.355, 119,.34, 121,.338, 124,.342, 128,.338, 131,.335, 134,.35, 137,.357, 141,.35, 145,.345, 149,.34, 153,.33, 157,.325, 161,.32, 165,.325, 169,.34, 173,.355, 177,.372, 179,.374, 182,.37, 186,.35, 189,.338, 193,.342, 197,.347, 201,.344, 205,.335, 209,.32, 213,.305, 217,.29, 221,.275, 225,.262, 228,.257];
const P8_DTML = [0,.48, 3,.482, 6,.47, 9,.457, 12,.455, 15,.458, 18,.46, 21,.455, 24,.43, 27,.38, 30,.35, 32,.343, 35,.345, 38,.36, 41,.37, 44,.37, 47,.37, 50,.36, 53,.34, 57,.325, 61,.32, 65,.31, 69,.29, 72,.275, 75,.26, 78,.25, 81,.252, 84,.27, 88,.3, 92,.325, 95,.332, 98,.33, 102,.315, 106,.29, 110,.28, 114,.285, 118,.295, 121,.29, 124,.275, 127,.27, 131,.27, 135,.278, 139,.283, 143,.282, 147,.275, 151,.27, 155,.263, 159,.26, 163,.262, 167,.268, 171,.28, 175,.298, 178,.305, 181,.3, 185,.29, 189,.285, 193,.284, 197,.285, 201,.287, 205,.28, 209,.27, 213,.255, 217,.24, 221,.225, 225,.213, 228,.205];
const P8_RSR = [0,.485, 3,.49, 6,.487, 9,.48, 12,.487, 15,.498, 17,.5, 20,.493, 23,.47, 26,.43, 29,.395, 32,.38, 35,.385, 38,.405, 41,.42, 45,.412, 48,.395, 51,.378, 55,.37, 58,.365, 62,.345, 66,.33, 70,.315, 73,.305, 76,.303, 80,.31, 84,.335, 88,.36, 92,.378, 95,.38, 99,.37, 103,.345, 107,.318, 110,.312, 113,.318, 116,.325, 119,.33, 122,.325, 125,.312, 128,.305, 131,.305, 135,.31, 139,.312, 143,.313, 147,.315, 151,.316, 155,.315, 159,.31, 163,.305, 167,.3, 171,.305, 174,.32, 177,.34, 179,.342, 182,.335, 186,.32, 190,.318, 194,.322, 197,.322, 200,.314, 204,.312, 208,.31, 212,.3, 216,.285, 220,.265, 224,.245, 228,.232];
const P8_PLAIN = [0,.418, 3,.43, 6,.445, 10,.445, 13,.447, 16,.455, 20,.452, 23,.445, 26,.42, 29,.385, 32,.36, 35,.36, 38,.375, 42,.38, 45,.388, 48,.385, 51,.36, 54,.33, 57,.33, 60,.34, 63,.342, 66,.325, 70,.3, 74,.275, 77,.26, 80,.255, 83,.265, 87,.3, 91,.335, 95,.355, 97,.358, 100,.345, 104,.315, 108,.29, 111,.285, 114,.3, 117,.33, 119,.343, 122,.335, 125,.31, 128,.3, 131,.307, 134,.308, 137,.3, 141,.305, 145,.308, 149,.307, 153,.305, 157,.302, 161,.3, 165,.302, 169,.298, 173,.288, 177,.295, 180,.305, 184,.307, 188,.305, 192,.31, 196,.322, 199,.32, 202,.305, 206,.29, 210,.275, 214,.26, 218,.25, 222,.245, 226,.245, 228,.245];
const P8_RANK = [0,.465, 3,.49, 5,.498, 8,.49, 11,.478, 14,.468, 17,.458, 20,.455, 23,.435, 26,.41, 29,.38, 32,.37, 35,.372, 38,.378, 42,.38, 45,.383, 48,.375, 51,.35, 54,.325, 57,.32, 61,.325, 64,.32, 68,.3, 72,.28, 76,.263, 79,.245, 82,.248, 86,.275, 90,.31, 94,.335, 97,.342, 100,.34, 104,.315, 107,.29, 110,.28, 114,.285, 118,.305, 121,.305, 124,.29, 127,.278, 131,.28, 135,.29, 139,.295, 143,.3, 147,.302, 151,.3, 155,.297, 159,.3, 163,.285, 166,.268, 169,.275, 173,.29, 177,.295, 180,.29, 184,.288, 188,.293, 192,.305, 196,.313, 199,.31, 202,.295, 206,.275, 210,.255, 214,.248, 218,.242, 222,.24, 226,.238, 228,.236];

type Pt = [number, number];
const toPairs = (a: number[]): Pt[] => d3.range(0, a.length, 2).map((i) => [a[i], a[i + 1]] as Pt);

type PanelCfg = {
  left: number; top: number; width: number; height: number; s: number;
  yDomain: number[]; yTicks: number[]; yLabels: string[];
  legend: 'lr' | 'ur';
  series: number[][];
};

const PANELS: PanelCfg[] = [
  { left: 41, top: 32, width: 376, height: 311, s: 1, yDomain: P1_YDOMAIN, yTicks: P1_YTICKS, yLabels: P1_YLABELS, legend: 'lr',
    series: [P1_REAL, P1_TFT, P1_DTML, P1_RSR, P1_PLAIN, P1_RANK] },
  { left: 498, top: 33, width: 376, height: 310, s: 1, yDomain: P2_YDOMAIN, yTicks: P2_YTICKS, yLabels: P2_YLABELS, legend: 'ur',
    series: [P2_REAL, P2_TFT, P2_DTML, P2_RSR, P2_PLAIN, P2_RANK] },
  { left: 989, top: 17, width: 385, height: 319, s: 1.024, yDomain: P3_YDOMAIN, yTicks: P3_YTICKS, yLabels: P3_YLABELS, legend: 'ur',
    series: [P3_REAL, P3_TFT, P3_DTML, P3_RSR, P3_PLAIN, P3_RANK] },
  { left: 1458, top: 17, width: 385, height: 318, s: 1.024, yDomain: P2_YDOMAIN, yTicks: P2_YTICKS, yLabels: P2_YLABELS, legend: 'ur',
    series: [P2_REAL, P2_TFT, P2_DTML, P2_RSR, P2_PLAIN, P2_RANK] },
  { left: 41, top: 383, width: 376, height: 311, s: 1, yDomain: P5_YDOMAIN, yTicks: P5_YTICKS, yLabels: P5_YLABELS, legend: 'ur',
    series: [P5_REAL, P5_TFT, P5_DTML, P5_RSR, P5_PLAIN, P5_RANK] },
  { left: 498, top: 383, width: 376, height: 311, s: 1, yDomain: P6_YDOMAIN, yTicks: P6_YTICKS, yLabels: P6_YLABELS, legend: 'ur',
    series: [P6_REAL, P6_TFT, P6_DTML, P6_RSR, P6_PLAIN, P6_RANK] },
  { left: 989, top: 378, width: 385, height: 318, s: 1.024, yDomain: P7_YDOMAIN, yTicks: P7_YTICKS, yLabels: P7_YLABELS, legend: 'ur',
    series: [P7_REAL, P7_TFT, P7_DTML, P7_RSR, P7_PLAIN, P7_RANK] },
  { left: 1451, top: 378, width: 385, height: 318, s: 1.024, yDomain: P8_YDOMAIN, yTicks: P8_YTICKS, yLabels: P8_YLABELS, legend: 'ur',
    series: [P8_REAL, P8_TFT, P8_DTML, P8_RSR, P8_PLAIN, P8_RANK] },
];

const FONT = '"DejaVu Sans", Verdana, sans-serif';
const TEXT_COLOR = '#3a3a3a';
const AXIS_COLOR = '#444';

function Panel({ p, idx }: { p: PanelCfg; idx: number }) {
  const right = p.left + p.width;
  const bottom = p.top + p.height;
  const x = d3.scaleLinear().domain(X_DOMAIN).range([p.left, right]);
  const y = d3.scaleLinear().domain(p.yDomain).range([bottom, p.top]);
  const smooth = d3.line<Pt>().x((d) => x(d[0])).y((d) => y(d[1])).curve(d3.curveMonotoneX);
  const raw = d3.line<Pt>().x((d) => x(d[0])).y((d) => y(d[1]));
  const s = p.s;
  const fs = 10.5 * s;
  const tl = 4 * s;
  const clipId = `clip-${idx}`;

  const lw = 98 * s;
  const lh = 105 * s;
  const lx = right - 6 * s - lw;
  const ly = p.legend === 'ur' ? p.top + 5 * s : bottom - 6 * s - lh;

  return (
    <g>
      <defs>
        <clipPath id={clipId}>
          <rect x={p.left} y={p.top} width={p.width} height={p.height} />
        </clipPath>
      </defs>
      <rect x={p.left} y={p.top} width={p.width} height={p.height} fill="#fff" />
      <g clipPath={`url(#${clipId})`}>
        {p.series.map((arr, i) => (
          <path
            key={i}
            d={(i === 0 ? raw : smooth)(toPairs(arr)) || ''}
            fill="none"
            stroke={COLORS[i]}
            strokeWidth={1.5 * s}
            strokeLinejoin="round"
          />
        ))}
      </g>
      <rect x={p.left} y={p.top} width={p.width} height={p.height} fill="none" stroke={AXIS_COLOR} strokeWidth={1.1} />
      {X_TICKS.map((t) => (
        <g key={`x${t}`}>
          <line x1={x(t)} x2={x(t)} y1={bottom} y2={bottom + tl} stroke={AXIS_COLOR} strokeWidth={1} />
          <text x={x(t)} y={bottom + tl + 3 * s + fs * 0.76} textAnchor="middle" fontSize={fs} fontFamily={FONT} fill={TEXT_COLOR}>
            {t}
          </text>
        </g>
      ))}
      {p.yTicks.map((t, i) => (
        <g key={`y${i}`}>
          <line x1={p.left - tl} x2={p.left} y1={y(t)} y2={y(t)} stroke={AXIS_COLOR} strokeWidth={1} />
          <text x={p.left - tl - 3.5 * s} y={y(t)} dy="0.36em" textAnchor="end" fontSize={fs} fontFamily={FONT} fill={TEXT_COLOR}>
            {p.yLabels[i]}
          </text>
        </g>
      ))}
      <g>
        <rect x={lx} y={ly} width={lw} height={lh} rx={3 * s} fill="#fff" fillOpacity={0.85} stroke="#d0d0d0" strokeWidth={1} />
        {SERIES.map((name, i) => {
          const cy = ly + 10 * s + i * 17 * s;
          return (
            <g key={name}>
              <line x1={lx + 4 * s} x2={lx + 27 * s} y1={cy} y2={cy} stroke={COLORS[i]} strokeWidth={1.5 * s} />
              <text x={lx + 36 * s} y={cy} dy="0.36em" fontSize={11 * s} fontFamily={FONT} fill={TEXT_COLOR}>
                {name}
              </text>
            </g>
          );
        })}
      </g>
    </g>
  );
}

export default function App() {
  return (
    <svg
      width={1849}
      height={725}
      viewBox="0 0 1849 725"
      style={{ position: 'absolute', left: 0, top: 0, display: 'block', background: '#fff' }}
    >
      <rect x={0} y={0} width={1849} height={725} fill="#fff" />
      <rect x={0} y={0} width={4} height={725} fill="#e6e6e8" />
      <rect x={893} y={0} width={54} height={725} fill="#e6e6e8" />
      {PANELS.map((p, i) => (
        <Panel key={i} p={p} idx={i} />
      ))}
    </svg>
  );
}
